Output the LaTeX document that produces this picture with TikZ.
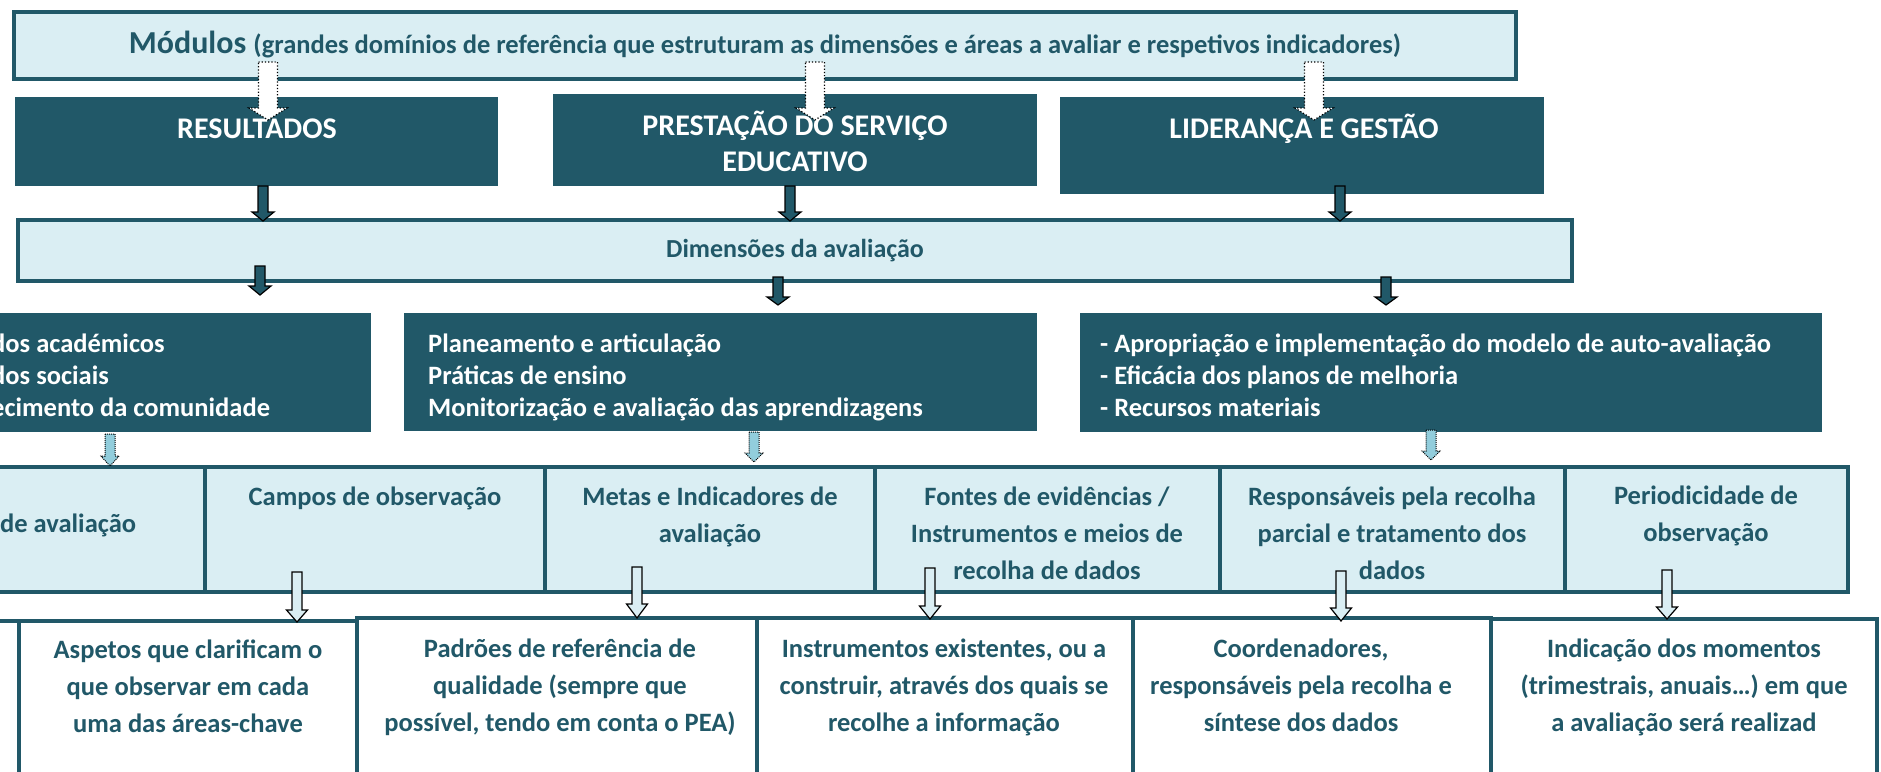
\documentclass[tikz,border=0pt]{standalone}
\usepackage{fontspec}
\setmainfont{Carlito}
\definecolor{dteal}{HTML}{215868}
\definecolor{lightfill}{HTML}{DAEEF3}
\definecolor{arrowblue}{HTML}{92CDDC}
\newcommand\barrow[7]{\draw[#1] (#2-#6,#3) -- (#2+#6,#3) -- (#2+#6,#4) -- (#2+#7,#4) -- (#2,#5) -- (#2-#7,#4) -- (#2-#6,#4) -- cycle;}
\tikzset{
  lightbox/.style={draw=dteal, line width=3.5pt, fill=lightfill, inner sep=0pt, outer sep=0pt, anchor=north west},
  cellbox/.style={draw=dteal, line width=4pt, fill=lightfill, inner sep=0pt, outer sep=0pt, anchor=north west},
  whitebox/.style={draw=dteal, line width=4pt, fill=white, inner sep=0pt, outer sep=0pt, anchor=north west},
  darkbox/.style={fill=dteal, draw=none, inner sep=0pt, outer sep=0pt, anchor=north west},
  ttxt/.style={text=dteal, inner sep=0pt, align=center, anchor=base, font=\bfseries\fontsize{26.5}{37}\selectfont},
  wtxt/.style={text=white, inner sep=0pt, font=\bfseries\fontsize{30}{36}\selectfont, align=center, anchor=base},
  wlist/.style={text=white, inner sep=0pt, font=\bfseries\fontsize{26.5}{32}\selectfont, align=left, anchor=base west},
  dotw/.style={draw=black, dotted, line width=1.2pt, fill=white},
  dotb/.style={draw=black, densely dotted, line width=1pt, fill=arrowblue},
  darr/.style={draw=black, line width=1.2pt, fill=dteal},
  warr/.style={draw=black, line width=1.2pt, fill=lightfill},
}
\begin{document}
\begin{tikzpicture}[x=1pt,y=-1pt]
\useasboundingbox (0,0) rectangle (1881,771);
\clip (0,0) rectangle (1881,771);
% row 1
\node[lightbox, minimum width=1502pt, minimum height=67pt] (mod) at (14,12) {};
\node[text=dteal, inner sep=0pt, anchor=base] (modt) at (765,53) {\bfseries\fontsize{32}{36}\selectfont Módulos \fontsize{26.5}{36}\selectfont(grandes domínios de referência que estruturam as dimensões e áreas a avaliar e respetivos indicadores)};
% row 2
\node[darkbox, minimum width=483pt, minimum height=89pt] (res) at (15,97) {};
\node[darkbox, minimum width=484pt, minimum height=92pt] (pse) at (553,94) {};
\node[darkbox, minimum width=484pt, minimum height=97pt] (lid) at (1060,97) {};
\node[wtxt] (rest) at (257,138) {RESULTADOS};
\node[wtxt] (pset) at (795,171) {PRESTAÇÃO DO SERVIÇO\\EDUCATIVO};
\node[wtxt] (lidt) at (1304,138) {LIDERANÇA E GESTÃO};
% row 3
\node[lightbox, minimum width=1554pt, minimum height=61pt] (dim) at (18,220) {};
\node[text=dteal, inner sep=0pt, anchor=base, font=\bfseries\fontsize{26}{30}\selectfont] (dimt) at (795,257) {Dimensões da avaliação};
% row 4
\node[darkbox, minimum width=421pt, minimum height=119pt] (d1) at (-50,313) {};
\node[darkbox, minimum width=633pt, minimum height=118pt] (d2) at (404,313) {};
\node[darkbox, minimum width=742pt, minimum height=119pt] (d3) at (1080,313) {};
\node[wlist] (d1t) at (-9,416) {\llap{Resulta}dos académicos\\\llap{Resulta}dos sociais\\\llap{Reconh}ecimento da comunidade};
\node[wlist] (d2t) at (428,416) {Planeamento e articulação\\Práticas de ensino\\Monitorização e avaliação das aprendizagens};
\node[wlist] (d3t) at (1100,416) {- Apropriação e implementação do modelo de auto-avaliação\\- Eficácia dos planos de melhoria\\- Recursos materiais};
% row 5
\node[cellbox, minimum width=255pt, minimum height=125pt] (c1) at (-50,467) {};
\node[cellbox, minimum width=340pt, minimum height=125pt] (c2) at (205,467) {};
\node[cellbox, minimum width=330pt, minimum height=125pt] (c3) at (545,467) {};
\node[cellbox, minimum width=345pt, minimum height=125pt] (c4) at (875,467) {};
\node[cellbox, minimum width=345pt, minimum height=125pt] (c5) at (1220,467) {};
\node[cellbox, minimum width=283pt, minimum height=125pt] (c6) at (1565,467) {};
\node[ttxt, anchor=base west] (c1t) at (0,532) {de avaliação};
\node[ttxt] (c2t) at (375,505) {Campos de observação};
\node[ttxt] (c3t) at (710,542) {Metas e Indicadores de\\avaliação};
\node[ttxt] (c4t) at (1047,579) {Fontes de evidências /\\Instrumentos e meios de\\recolha de dados};
\node[ttxt] (c5t) at (1392,579) {Responsáveis pela recolha\\parcial e tratamento dos\\dados};
\node[ttxt] (c6t) at (1706,541) {Periodicidade de\\observação};
% row 6
\node[whitebox, minimum width=69pt, minimum height=200pt] (b0) at (-50,621) {};
\node[whitebox, minimum width=338pt, minimum height=200pt] (b1) at (19,621) {};
\node[whitebox, minimum width=400pt, minimum height=200pt] (b2) at (357,618) {};
\node[whitebox, minimum width=376pt, minimum height=200pt] (b3) at (757,618) {};
\node[whitebox, minimum width=358pt, minimum height=200pt] (b4) at (1133,618) {};
\node[whitebox, minimum width=386pt, minimum height=200pt] (b5) at (1491,619) {};
\node[ttxt] (b1t) at (188,732) {Aspetos que clarificam o\\que observar em cada\\uma das áreas-chave};
\node[ttxt] (b2t) at (560,731) {Padrões de referência de\\qualidade (sempre que\\possível, tendo em conta o PEA)};
\node[ttxt] (b3t) at (944,731) {Instrumentos existentes, ou a\\construir, através dos quais se\\recolhe a informação};
\node[ttxt] (b4t) at (1301,731) {Coordenadores,\\responsáveis pela recolha e\\síntese dos dados};
\node[ttxt] (b5t) at (1684,731) {Indicação dos momentos\\(trimestrais, anuais…) em que\\a avaliação será realizad};
% arrows row1 -> row2
\barrow{dotw}{268}{62}{108}{120}{9.5}{19}
\barrow{dotw}{815}{62}{108}{120}{9.5}{19}
\barrow{dotw}{1314}{62}{108}{120}{9.5}{19}
% arrows row2 -> row3
\barrow{darr}{263}{186}{212}{221}{5}{11}
\barrow{darr}{790}{186}{212}{221}{5}{11}
\barrow{darr}{1340}{186}{212}{221}{5}{11}
% arrows row3 -> row4
\barrow{darr}{260}{266}{286}{295}{5}{11}
\barrow{darr}{778}{277}{297}{305}{5}{11}
\barrow{darr}{1386}{277}{297}{305}{5}{11}
% arrows row4 -> row5
\barrow{dotb}{110}{434}{456}{466}{5}{9}
\barrow{dotb}{754}{432}{453}{462}{5}{9}
\barrow{dotb}{1431}{430}{451}{460}{5}{9}
% arrows row5 -> row6
\barrow{warr}{297}{572}{610}{622}{5}{10.5}
\barrow{warr}{637}{567}{604}{618}{5}{10.5}
\barrow{warr}{930}{568}{606}{619}{5}{10.5}
\barrow{warr}{1341}{571}{608}{621}{5}{10.5}
\barrow{warr}{1667}{570}{607}{619}{5}{10.5}
\end{tikzpicture}
\end{document}
